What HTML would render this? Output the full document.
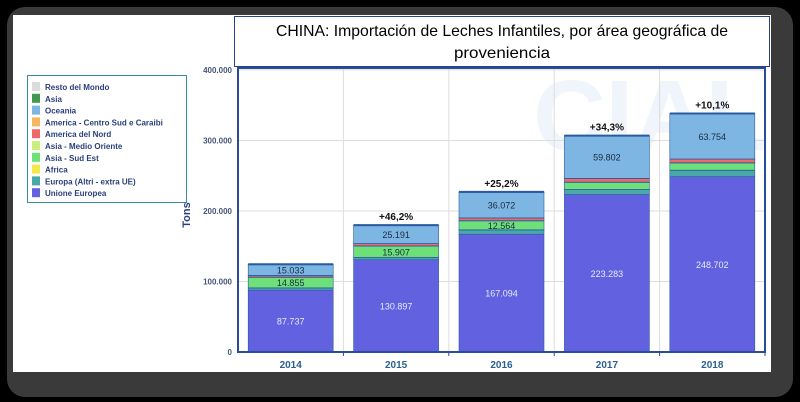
<!DOCTYPE html>
<html><head><meta charset="utf-8"><style>
html,body{margin:0;padding:0;background:#000;}
svg{display:block;font-family:"Liberation Sans",sans-serif;}
</style></head><body>
<svg width="800" height="402" viewBox="0 0 800 402">
<rect x="7" y="7" width="786" height="390" rx="18" fill="#3a3a3a"/>
<rect x="13" y="15" width="758" height="357" fill="#ffffff"/>
<rect x="234.5" y="16.5" width="535" height="50" fill="#fff" stroke="#2a3f8a" stroke-width="1"/>
<text x="502" y="36" text-anchor="middle" font-size="16" textLength="452" lengthAdjust="spacingAndGlyphs" fill="#000">CHINA: Importación de Leches Infantiles, por área geográfica de</text>
<text x="502" y="58" text-anchor="middle" font-size="16" textLength="96" lengthAdjust="spacingAndGlyphs" fill="#000">proveniencia</text>
<text x="650" y="150" text-anchor="middle" font-size="100" font-weight="bold" fill="#f0f4fb">CIAL</text>
<g id="grid"></g>
<g id="bars"></g>
<rect x="238" y="68" width="527" height="284" fill="none" stroke="#2a4a9a" stroke-width="2"/>
<g id="axes"></g>
<text transform="translate(190,215) rotate(-90)" text-anchor="middle" font-size="11" font-weight="bold" fill="#2a3f7a">Tons</text>
<g>
<rect x="27.5" y="75.5" width="159" height="127" fill="#fff" stroke="#3a8aa0" stroke-width="1"/>
<g id="legend"></g>
</g>
</svg>
<script>
const categories=["2014","2015","2016","2017","2018"];
const unioneEuropea=[87737,130897,167094,223283,248702];
const europaAltri=[3000,3000,6000,7000,9000];
const africa=[300,300,300,300,300];
const asiaSudEst=[14855,15907,12564,10000,10000];
const asiaMedioOriente=[500,500,500,500,500];
const americaNord=[2000,3000,3500,5000,5000];
const americaCentroSud=[300,300,300,300,300];
const oceania=[15033,25191,36072,59802,63754];
const asia=[400,400,400,400,400];
const restoMondo=[400,400,400,400,400];
const asiaSudEstLabels=["14.855","15.907","12.564","",""];
const growthLabels=["","+46,2%","+25,2%","+34,3%","+10,1%"];
const yTicks=[0,100000,200000,300000,400000];
const yTickLabels=["0","100.000","200.000","300.000","400.000"];
const seriesNames=["Unione Europea","Europa (Altri - extra UE)","Africa","Asia - Sud Est","Asia - Medio Oriente","America del Nord","America - Centro Sud e Caraibi","Oceania","Asia","Resto del Mondo"];
const seriesData=[unioneEuropea,europaAltri,africa,asiaSudEst,asiaMedioOriente,americaNord,americaCentroSud,oceania,asia,restoMondo];
const seriesColors=["#6262e0","#4aa8a8","#f5e84a","#6ee07a","#c8f07a","#ee6a6a","#f5b860","#7db6e2","#3f9a50","#dcdcdc"];
const ns="http://www.w3.org/2000/svg";
const x0=238,pw=527,y0=352,ph=282,yMax=400000;
const y=v=>y0-v/yMax*ph;
const band=pw/categories.length;
const xc=i=>x0+band*i+band/2;
const bw=85;
function mk(t,a){const e=document.createElementNS(ns,t);for(const k in a)e.setAttribute(k,a[k]);return e;}
const grid=document.getElementById('grid'),axes=document.getElementById('axes'),bars=document.getElementById('bars'),leg=document.getElementById('legend');
yTicks.forEach((t,i)=>{
 const l=mk('line',{x1:x0,x2:x0+pw,y1:y(t),y2:y(t),stroke:'#dddddd'});
 
 
 grid.appendChild(l);
 const tx=mk('text',{x:x0-6,y:y(t)+3,'text-anchor':'end','font-size':'8','font-weight':'bold',fill:'#44557a'});
 tx.textContent=yTickLabels[i];
 
 
 axes.appendChild(tx);
});
categories.forEach((c,i)=>{
 const gl=mk('line',{x1:x0+band*i,x2:x0+band*i,y1:68,y2:y0,stroke:'#dddddd'});
 
 
 grid.appendChild(gl);
 const tk=mk('line',{x1:x0+band*(i+1),x2:x0+band*(i+1),y1:y0,y2:y0+4,stroke:'#2a4a9a'});
 
 
 axes.appendChild(tk);
 const tx=mk('text',{x:xc(i),y:368,'text-anchor':'middle','font-size':'10','font-weight':'bold',fill:'#2a6090'});
 tx.textContent=c;
 
 
 axes.appendChild(tx);
 let cum=0;
 seriesData.forEach((s,k)=>{
  const v=s[i];
  const r=mk('rect',{x:xc(i)-bw/2,y:y(cum+v),width:bw,height:Math.max(0,y(cum)-y(cum+v)),fill:seriesColors[k],stroke:'#2a5aa0','stroke-width':'0.6'});
  
  
  bars.appendChild(r);
  let lab=null;
  if(k===0||k===7) lab=v.toLocaleString('de-DE');
  if(k===3&&asiaSudEstLabels[i]) lab=asiaSudEstLabels[i];
  if(lab){
   const t=mk('text',{x:xc(i),y:(y(cum)+y(cum+v))/2+3.5,'text-anchor':'middle','font-size':'9',fill:k===0?'#e8e8ff':'#1a2a40'});
   t.textContent=lab;
   
   
   bars.appendChild(t);
  }
  cum+=v;
 });
 const top=mk('line',{x1:xc(i)-bw/2,x2:xc(i)+bw/2,y1:y(cum),y2:y(cum),stroke:'#2a5aa0','stroke-width':'2'});
 
 
 bars.appendChild(top);
 if(growthLabels[i]){
  const g=mk('text',{x:xc(i),y:y(cum)-5,'text-anchor':'middle','font-size':'10','font-weight':'bold',fill:'#111'});
  g.textContent=growthLabels[i];
  
  
  bars.appendChild(g);
 }
});
for(let j=0;j<seriesNames.length;j++){
 const k=seriesNames.length-1-j;
 const yy=82+j*11.8;
 const sw=mk('rect',{x:32,y:yy,width:8,height:9,fill:seriesColors[k]});
 
 
 leg.appendChild(sw);
 const t=mk('text',{x:45,y:yy+8,'font-size':'8','font-weight':'bold',fill:'#2a3f7a'});
 t.textContent=seriesNames[k];
 
 
 leg.appendChild(t);
}
</script>
</body></html>
